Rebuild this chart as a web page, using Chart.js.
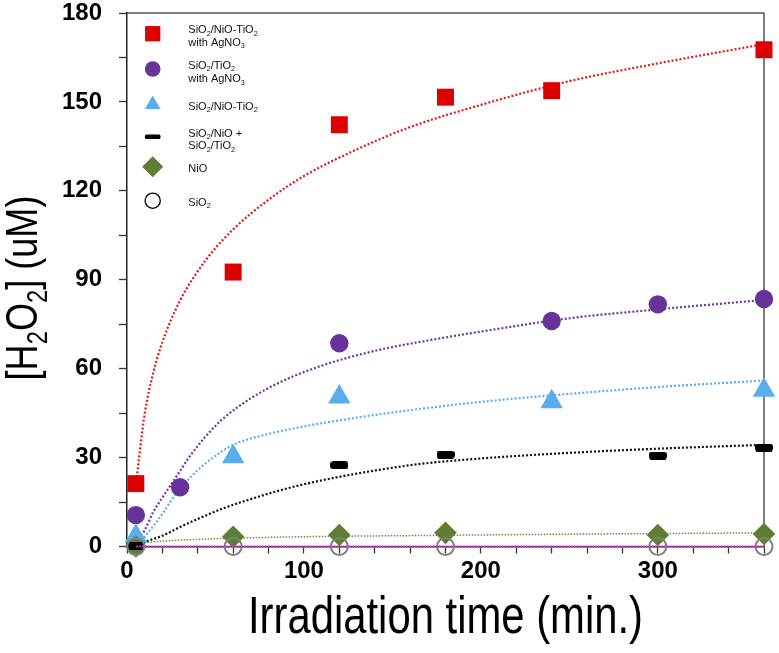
<!DOCTYPE html>
<html><head><meta charset="utf-8">
<script src="https://cdn.jsdelivr.net/npm/chart.js@4.4.0/dist/chart.umd.min.js"></script>
<style>html,body{margin:0;padding:0;background:#fff}#wrap{position:relative;width:779px;height:653px}</style>
</head><body><div id="wrap"><canvas id="c" width="779" height="653"></canvas></div>
<script>
// ---- data ----
const xTicksMajor = [0, 100, 200, 300];
const yTicksMajor = [0, 30, 60, 90, 120, 150, 180];

const redX = [5, 60, 120, 180, 240, 360];
const redY = [21.2, 92.6, 142.3, 151.6, 153.8, 167.6];
const purpleX = [5, 30, 120, 240, 300, 360];
const purpleY = [10.6, 20.0, 68.6, 76.1, 81.7, 83.5];
const blueX = [5, 60, 120, 240, 360];
const blueY = [3.5, 30.3, 50.4, 48.8, 52.7];
const blackX = [5, 120, 180, 300, 360];
const blackY = [0.3, 27.4, 31.0, 30.7, 33.4];
const greenX = [5, 60, 120, 180, 300, 360];
const greenY = [0, 3.3, 3.9, 4.6, 3.9, 4.2];
const grayX = [5, 60, 120, 180, 300, 360];
const grayY = [0, 0, 0, 0, 0, 0];

// fitted curves
const fitRedX = [5, 10, 15, 20, 30, 45, 60, 80, 100, 130, 160, 200, 250, 300, 360];
const fitRedY = [20.7, 44.8, 59, 69, 83, 97, 107, 117, 125, 134, 141.5, 149, 157, 163, 169.5];
const fitPurpleX = [5, 7, 10, 15, 20, 25, 30, 35, 45, 55, 70, 85, 110, 140, 170, 200, 250, 300, 360];
const fitPurpleY = [0, 2.5, 5.5, 11.8, 16.5, 21, 25.5, 30, 37.5, 43.5, 50, 55, 61, 66, 69.5, 72.5, 77, 80, 83.2];
const fitBlueX = [5, 7, 10, 15, 20, 25, 30, 40, 50, 60, 80, 100, 130, 160, 200, 250, 300, 360];
const fitBlueY = [0, 1, 3.3, 7, 11, 15.5, 19.5, 25.8, 30.6, 34.3, 38, 40.5, 43.5, 46, 48.8, 51.5, 53.8, 56];
const fitBlackX = [5, 10, 20, 30, 40, 55, 70, 85, 100, 130, 165, 200, 250, 300, 360];
const fitBlackY = [0, 1.5, 3.6, 6.6, 9.3, 13, 16, 18.7, 21, 24.6, 27.8, 29.7, 31.6, 33, 34.3];
const fitGreenX = [5, 20, 40, 60, 100, 165, 260, 360];
const fitGreenY = [1, 1.8, 2.4, 2.8, 3.3, 3.7, 4.2, 4.6];
const fitMagentaX = [5, 360];
const fitMagentaY = [0, 0];

const legendLines = [
  ["SiO_2/NiO-TiO_2", "with AgNO_3"],
  ["SiO_2/TiO_2", "with AgNO_3"],
  ["SiO_2/NiO-TiO_2"],
  ["SiO_2/NiO +", "SiO_2/TiO_2"],
  ["NiO"],
  ["SiO_2"]
];
const xTitle = "Irradiation time (min.)";
const yTitle = "[H_2O_2] (uM)";

// ---- styling ----
const C = {red:'#DD0000', purple:'#66339A', blue:'#5AADEA', black:'#000000', green:'#5F7E33', gray:'#808080', magenta:'#CC33CC'};

function hasFont(f){
  const g=document.createElement('canvas').getContext('2d');
  g.font='40px monospace'; const a=g.measureText('Irradiation 0123').width;
  g.font='40px "'+f+'", monospace'; return Math.abs(g.measureText('Irradiation 0123').width-a)>0.5;
}
const NARROW = hasFont('Liberation Sans Narrow');
const FAM = NARROW ? '"Liberation Sans Narrow", "Liberation Sans", Arial, sans-serif' : '"Liberation Sans", Arial, sans-serif';
const SQ = NARROW ? 1 : 0.82;

function pts(xs, ys){ return xs.map((x,i)=>({x:x, y:ys[i]})); }

function dashImg(w,h,color){
  const c=document.createElement('canvas'); c.width=w; c.height=h;
  const g=c.getContext('2d'); g.fillStyle=color; g.beginPath();
  if (g.roundRect) g.roundRect(0,0,w,h,h/2.4); else g.rect(0,0,w,h);
  g.fill(); return c;
}
const dashPlot = dashImg(18, 8, '#000');

function fitDs(xs, ys, color, w, dash, order){
  return {type:'line', data:pts(xs,ys), showLine:true, borderColor:color, borderWidth:w, borderDash:dash,
    pointRadius:0, fill:false, cubicInterpolationMode:'monotone', order:order, clip:false};
}
function ptDs(xs, ys, style, r, color, order, extra){
  return Object.assign({type:'scatter', data:pts(xs,ys), showLine:false, pointStyle:style, pointRadius:r,
    backgroundColor:color, borderColor:color, borderWidth:0, order:order, clip:false}, extra||{});
}

function parseRich(s){
  const parts=[]; const re=/_(\d)/g; let last=0, m;
  while((m=re.exec(s))){ if(m.index>last) parts.push([s.slice(last,m.index),0]); parts.push([m[1],1]); last=m.index+m[0].length; }
  if(last<s.length) parts.push([s.slice(last),0]);
  return parts;
}
function richWidth(ctx, s, size, fam){
  let w=0; for(const [t,sub] of parseRich(s)){ ctx.font=(sub?size*0.66:size)+'px '+fam; w+=ctx.measureText(t).width; } return w;
}
function drawRich(ctx, s, x, y, size, fam){
  let cx=x;
  for(const [t,sub] of parseRich(s)){
    ctx.font=(sub?size*0.66:size)+'px '+fam;
    ctx.fillText(t, cx, y + (sub? size*0.22 : 0));
    cx += ctx.measureText(t).width;
  }
}

const legendMarks = [
  {style:'rect', r:10.8, color:C.red},
  {style:'circle', r:7.8, color:C.purple},
  {style:'triangle', r:9, color:C.blue},
  {style:'dash', color:'#000'},
  {style:'rectRot', r:10.5, color:C.green},
  {style:'open', r:7.6, color:'#000'}
];
const legendMarkY = [33.7, 69, 104.5, 136.7, 166.7, 200.7];
const legendTextY = [[33.3, 46], [69, 82.3], [110], [136.7, 149.3], [172.3], [206]];

const deco = {
  id:'deco',
  beforeDatasetsDraw(chart){
    const {ctx, chartArea:a} = chart;
    ctx.save();
    ctx.strokeStyle='#555'; ctx.lineWidth=1.5;
    ctx.beginPath(); ctx.moveTo(a.left, a.top); ctx.lineTo(a.right, a.top); ctx.lineTo(a.right, a.bottom); ctx.stroke();
    ctx.restore();
  },
  afterDraw(chart){
    const {ctx, chartArea:a} = chart;
    ctx.save();
    // legend
    const mx = 152.7, tx = 188.3;
    legendMarks.forEach((m,i)=>{
      const y = legendMarkY[i];
      ctx.fillStyle=m.color; ctx.strokeStyle=m.color;
      if (m.style==='dash'){
        ctx.beginPath(); if(ctx.roundRect) ctx.roundRect(mx-7.8, y-2.2, 15.6, 4.4, 1.5); else ctx.rect(mx-7.8,y-2.2,15.6,4.4); ctx.fill();
      } else if (m.style==='open'){
        ctx.lineWidth=1.3; ctx.beginPath(); ctx.arc(mx, y, m.r, 0, Math.PI*2); ctx.stroke();
      } else {
        Chart.helpers.drawPoint(ctx, {pointStyle:m.style, radius:m.r, rotation:0, borderWidth:0}, mx, y);
      }
      ctx.fillStyle='#111'; ctx.textBaseline='alphabetic'; ctx.textAlign='left';
      legendLines[i].forEach((ln,j)=>drawRich(ctx, ln, tx, legendTextY[i][j], 11, '"Liberation Sans", Arial, sans-serif'));
    });
    // axis titles
    ctx.fillStyle='#000'; ctx.textBaseline='alphabetic'; ctx.textAlign='left';
    let fs = 51;
    ctx.save();
    ctx.translate((a.left+a.right)/2, 633);
    ctx.scale(SQ,1);
    ctx.font = fs+'px '+FAM;
    const wx = ctx.measureText(xTitle).width;
    ctx.fillText(xTitle, -wx/2, 0);
    ctx.restore();
    fs = 44;
    ctx.save();
    ctx.translate(37, 288);
    ctx.rotate(-Math.PI/2);
    ctx.scale(SQ,1);
    const wy = richWidth(ctx, yTitle, fs, FAM);
    drawRich(ctx, yTitle, -wy/2, 0, fs, FAM);
    ctx.restore();
    ctx.restore();
  }
};

new Chart(document.getElementById('c'), {
  type:'scatter',
  data:{datasets:[
    fitDs(fitRedX, fitRedY, '#E01818', 2.2, [2,2], 100),
    fitDs(fitPurpleX, fitPurpleY, '#6A3A9E', 2.2, [2,2], 100),
    fitDs(fitBlueX, fitBlueY, '#5AB0EC', 2.2, [2,2], 100),
    fitDs(fitBlackX, fitBlackY, '#111111', 2.2, [2,2], 100),
    fitDs(fitGreenX, fitGreenY, '#6F8C42', 1.5, [1.5,1.5], 100),
    ptDs(redX, redY, 'rect', 12, C.red, 60),
    ptDs(purpleX, purpleY, 'circle', 9.2, C.purple, 50),
    ptDs(blueX, blueY, 'triangle', 13, C.blue, 40),
    ptDs(blackX, blackY, dashPlot, 9, '#000', 30),
    ptDs(greenX, greenY, 'rectRot', 11.3, C.green, 35),
    ptDs(grayX, grayY, 'circle', 8.5, 'rgba(0,0,0,0)', 10, {borderColor:C.gray, borderWidth:2}),
    fitDs(fitMagentaX, fitMagentaY, C.magenta, 2, [2,1], 5)
  ]},
  options:{
    responsive:false, animation:false, events:[],
    layout:{padding:{top:10.5, right:15, left:0, bottom:0}},
    plugins:{legend:{display:false}, tooltip:{enabled:false}},
    scales:{
      x:{type:'linear', min:0, max:360,
        afterFit(s){ s.height = 106.5; s.paddingLeft = 8; s.paddingRight = 8; },
        ticks:{stepSize:20, autoSkip:false, maxRotation:0, padding:3, color:'#000',
          font:{family:FAM, size:24, weight:'bold'},
          callback:(v)=> xTicksMajor.includes(v) ? String(v) : ''},
        grid:{drawOnChartArea:false, drawTicks:true, tickLength:7, tickColor:'#333', tickWidth:1.3},
        border:{display:true, color:'#333', width:1.5}
      },
      y:{type:'linear', min:0, max:180,
        afterFit(s){ s.width = 127; s.paddingTop = 9; s.paddingBottom = 9; },
        ticks:{stepSize:15, autoSkip:false, padding:17, color:'#000',
          font:{family:FAM, size:24, weight:'bold', lineHeight:0.8},
          callback:(v)=> yTicksMajor.includes(v) ? String(v) : ''},
        grid:{drawOnChartArea:false, drawTicks:true, tickLength:8, tickColor:'#333', tickWidth:1.3},
        border:{display:true, color:'#222', width:1.5}
      }
    }
  },
  plugins:[deco]
});
</script></body></html>
